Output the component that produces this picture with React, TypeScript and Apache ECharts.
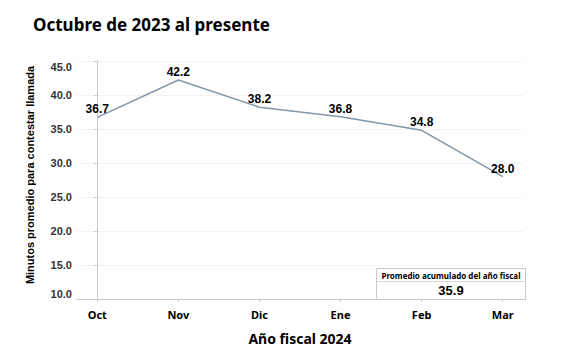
import React, { useEffect, useRef } from "react";
import * as echarts from "echarts";

const categories = ["Oct", "Nov", "Dic", "Ene", "Feb", "Mar"];
const minutes = [36.7, 42.2, 38.2, 36.8, 34.8, 28.0];
const yTicks = [10, 15, 20, 25, 30, 35, 40, 45];
const fiscalAverage = "35.9";

export default function App() {
  const ref = useRef<HTMLDivElement>(null);
  useEffect(() => {
    if (!ref.current) return;
    const chart = echarts.init(ref.current, undefined, { renderer: "svg" });
    const idx = categories.map((_, i) => i);
    chart.setOption({
      animation: false,
      backgroundColor: "#ffffff",
      title: {
        text: "Octubre de 2023 al presente",
        left: 28,
        top: 11,
        textStyle: { fontFamily: "Noto Sans", fontWeight: "bold", fontSize: 17, color: "#000" },
      },
      grid: { left: 77, right: 38, top: 61, bottom: 60 },
      xAxis: {
        type: "value",
        min: -0.25,
        max: 5.25,
        name: "Año fiscal 2024",
        nameLocation: "middle",
        nameGap: 32,
        nameTextStyle: { fontFamily: "Noto Sans", fontWeight: "bold", fontSize: 14, color: "#000" },
        axisLine: { show: true, lineStyle: { color: "#c8c8c8", width: 1 } },
        axisTick: { show: true, length: 3, customValues: idx, lineStyle: { color: "#c8c8c8" } },
        splitLine: { show: false },
        axisLabel: {
          customValues: idx,
          margin: 10,
          formatter: (v: number) => categories[Math.round(v)] ?? "",
          fontFamily: "Noto Sans",
          fontWeight: "bold",
          fontSize: 11,
          color: "#000",
        },
      },
      yAxis: {
        type: "value",
        min: 10,
        max: 45,
        interval: 5,
        axisLine: { show: true, lineStyle: { color: "#c8c8c8", width: 1 } },
        axisTick: { show: true, length: 3, lineStyle: { color: "#c8c8c8" } },
        splitLine: { show: true, lineStyle: { color: "#f2f2f2", width: 1 } },
        axisLabel: {
          customValues: yTicks,
          formatter: (v: number) => v.toFixed(1),
          margin: 5,
          fontFamily: "Arial",
          fontWeight: "bold",
          fontSize: 11,
          color: "#333",
          verticalAlignMaxLabel: "top",
          verticalAlignMinLabel: "bottom",
        },
      },
      series: [
        {
          type: "line",
          data: minutes.map((v, i) => [i, v]),
          showSymbol: true,
          symbol: "circle",
          symbolSize: 0,
          itemStyle: { color: "#8596a6" },
          lineStyle: { color: "#8596a6", width: 1.5 },
          label: {
            show: true,
            position: "top",
            distance: 2,
            formatter: (p: any) => p.value[1].toFixed(1),
            fontFamily: "Arial",
            fontWeight: "bold",
            fontSize: 12,
            color: "#000",
          },
        },
      ],
      graphic: [
        {
          type: "text",
          x: 30,
          y: 175,
          rotation: Math.PI / 2,
          style: {
            text: "Minutos promedio para contestar llamada",
            fontFamily: "Arial",
            fontWeight: "bold",
            fontSize: 11,
            fill: "#000",
            align: "center",
            verticalAlign: "middle",
          },
        },
        {
          type: "group",
          left: 374,
          top: 268,
          children: [
            { type: "rect", shape: { x: 0, y: 0, width: 149, height: 31 }, style: { fill: "#fff", stroke: "#c8c8c8", lineWidth: 1 } },
            { type: "line", shape: { x1: 0, y1: 13, x2: 149, y2: 13 }, style: { stroke: "#d8d8d8", lineWidth: 1 } },
            {
              type: "text",
              x: 74.5,
              y: 7,
              style: { text: "Promedio acumulado del año fiscal", fontFamily: "Noto Sans", fontWeight: "bold", fontSize: 8, fill: "#000", align: "center", verticalAlign: "middle" },
            },
            {
              type: "text",
              x: 74.5,
              y: 22,
              style: { text: fiscalAverage, fontFamily: "Arial", fontWeight: "bold", fontSize: 13, fill: "#000", align: "center", verticalAlign: "middle" },
            },
          ],
        },
      ],
    });
    return () => chart.dispose();
  }, []);
  return <div ref={ref} style={{ position: "fixed", left: 0, top: 0, width: 561, height: 359 }} />;
}
